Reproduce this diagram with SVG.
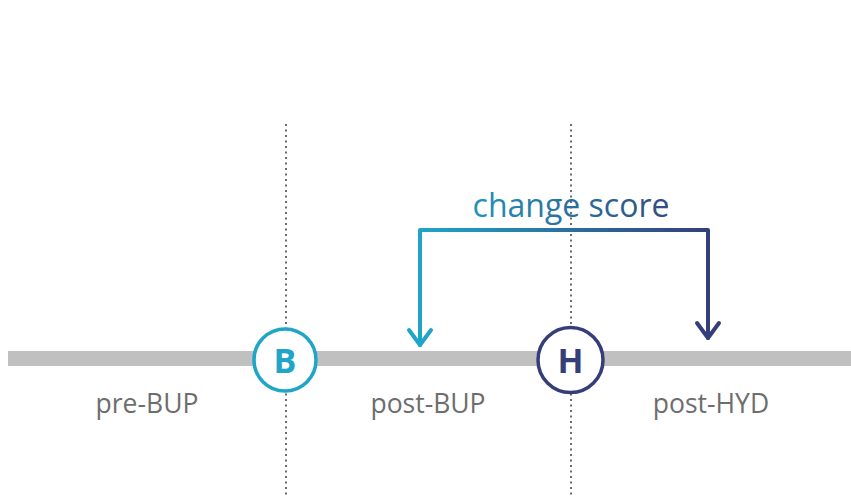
<svg xmlns="http://www.w3.org/2000/svg" width="851" height="497" viewBox="0 0 851 497">
<style>
.dot{stroke:#6b6b6b;stroke-width:2;stroke-dasharray:2 3.5;fill:none}
.lbl{font-family:"Open Sans","Liberation Sans",sans-serif;font-size:26.5px;fill:#6d6d6d;text-anchor:middle}
.node{fill:#fff;stroke-width:3.5}
.ltr{font-family:"Open Sans","Liberation Sans",sans-serif;font-size:34px;font-weight:bold;text-anchor:middle}
</style>
<defs>
<linearGradient id="g" gradientUnits="userSpaceOnUse" x1="418" y1="0" x2="710" y2="0">
<stop offset="0" stop-color="#1fa5c8"/>
<stop offset="1" stop-color="#353e78"/>
</linearGradient>
</defs>
<rect width="851" height="497" fill="#fff"/>
<rect x="8" y="351" width="843" height="15" fill="#c0c0c0"/>
<g id="guides">
<line class="dot" x1="286" y1="124" x2="286" y2="497"/>
<line class="dot" x1="571" y1="124" x2="571" y2="497"/>
</g>
<g id="connectors" fill="none" stroke-width="4" stroke-linecap="round" stroke-linejoin="round">
<path d="M420 345 V230 H708 V338" stroke="url(#g)"/>
<path d="M409 330 L420 345 L431 330" stroke="#1fa5c8"/>
<path d="M697 323 L708 338 L719 323" stroke="#353e78"/>
</g>
<text x="571" y="217" font-family="'Open Sans','Liberation Sans',sans-serif" font-size="32" fill="url(#g)" text-anchor="middle">change score</text>
<g id="nodeB">
<circle class="node" cx="285" cy="360" r="31" stroke="#1fa5c8"/>
<text class="ltr" x="285" y="372.5" fill="#1fa5c8">B</text>
</g>
<g id="nodeH">
<circle class="node" cx="570.5" cy="360" r="32.5" stroke="#353e78"/>
<text class="ltr" x="570.5" y="372.5" fill="#353e78">H</text>
</g>
<text class="lbl" x="147" y="413">pre-BUP</text>
<text class="lbl" x="428" y="413">post-BUP</text>
<text class="lbl" x="711" y="413">post-HYD</text>
</svg>
